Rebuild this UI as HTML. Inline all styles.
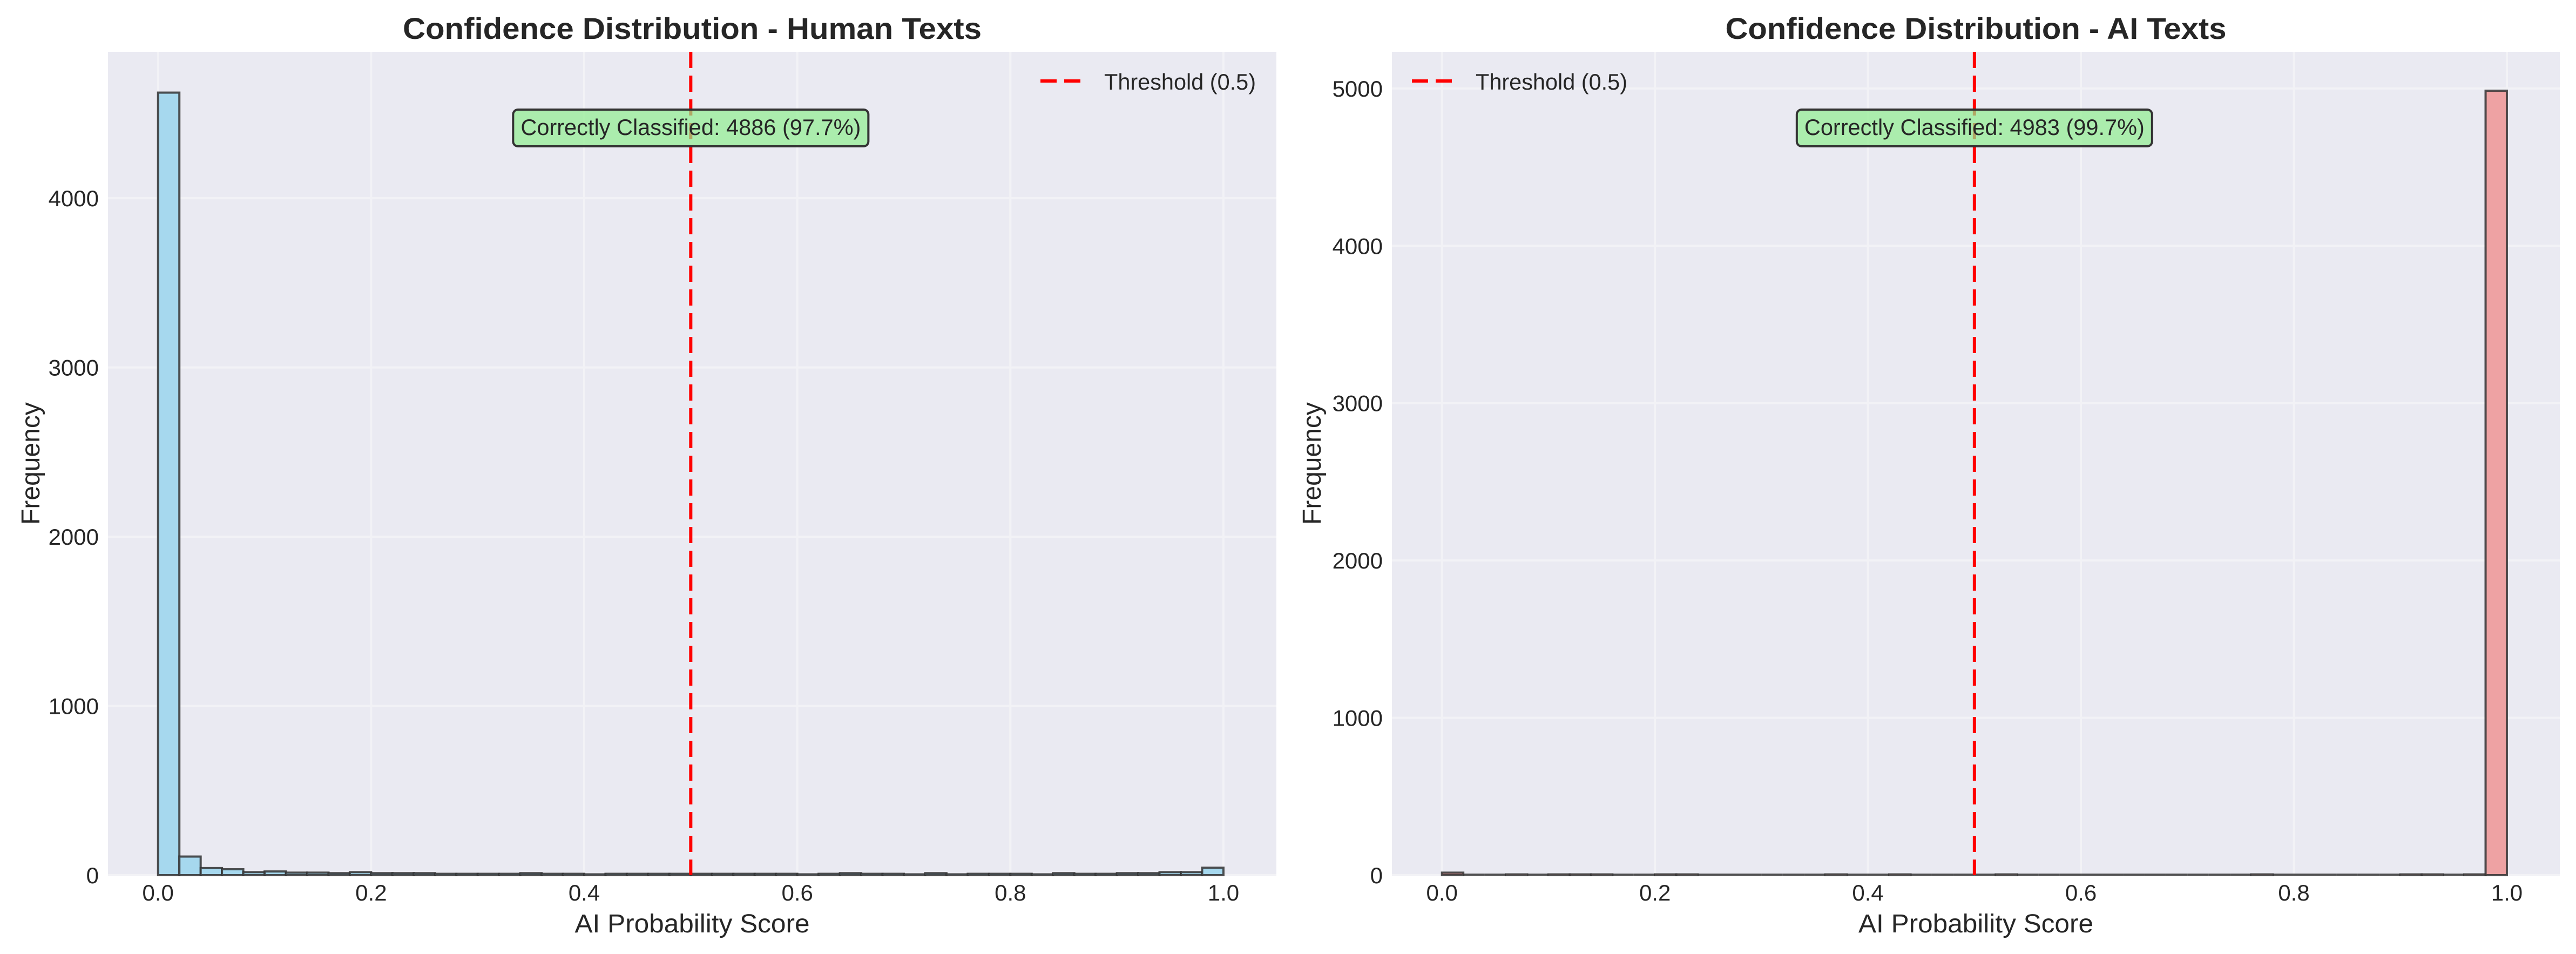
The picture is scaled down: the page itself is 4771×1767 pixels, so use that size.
<!DOCTYPE html>
<html><head><meta charset="utf-8">
<style>
html,body{margin:0;padding:0;background:#fff;}
svg{display:block;}
text{font-family:"Liberation Sans",Arial,sans-serif;fill:#262626;}
</style></head>
<body>
<svg id="fig" xmlns="http://www.w3.org/2000/svg" width="4771" height="1767" viewBox="0 0 4771 1767"></svg>
<script>
const binEdgesStart = 0.0;
const binWidth = 0.02;
const humanCounts = [4624,110,42,35,18,22,15,15,12,18,12,12,12,8,8,8,8,12,8,8,5,8,8,8,8,8,8,8,8,8,5,8,12,8,8,5,12,5,8,8,8,5,12,8,8,12,12,18,18,44];
const aiCounts = [16,0,0,5,0,5,5,5,0,0,5,5,0,0,0,0,0,0,5,0,0,5,0,0,0,0,5,0,0,0,0,0,0,0,0,0,0,0,5,0,0,0,0,0,0,5,5,0,5,4986];
const xTicks = [0.0,0.2,0.4,0.6,0.8,1.0];
const xTickLabels = ["0.0","0.2","0.4","0.6","0.8","1.0"];
const humanYTicks = [0,1000,2000,3000,4000];
const aiYTicks = [0,1000,2000,3000,4000,5000];
const threshold = 0.5;

const NS = "http://www.w3.org/2000/svg";
const svg = document.getElementById('fig');
function mk(tag, attrs, parent){
  const e = document.createElementNS(NS, tag);
  for (const k in attrs) e.setAttribute(k, attrs[k]);
  (parent||svg).appendChild(e);
  return e;
}

function panel(cfg){
  const g = mk('g', {});
  
  
  const L = cfg.left, R = cfg.right, T = 96, B = 1621;
  const xmin = -0.047, xmax = 1.0497;
  const X = v => L + (v - xmin) / (xmax - xmin) * (R - L);
  const Y = v => B - v / cfg.ymax * (B - T);

  const bg = mk('rect', {x:L, y:T, width:R-L, height:B-T, fill:'#EAEAF2'}, g);
  
  

  xTicks.forEach((t, i) => {
    const gl = mk('line', {x1:X(t), x2:X(t), y1:T, y2:B, stroke:'#F2F2F6', 'stroke-width':4}, g);
    
    
    const lb = mk('text', {x:X(t), y:1668, 'font-size':42, 'text-anchor':'middle'}, g);
    lb.textContent = xTickLabels[i];
    
    
  });
  cfg.yTicks.forEach(t => {
    const gl = mk('line', {x1:L, x2:R, y1:Y(t), y2:Y(t), stroke:'#F2F2F6', 'stroke-width':4}, g);
    
    
    const lb = mk('text', {x:L-17, y:Y(t)+15, 'font-size':42, 'text-anchor':'end'}, g);
    lb.textContent = String(t);
    
    
  });

  cfg.counts.forEach((c, i) => {
    const x0 = X(binEdgesStart + i*binWidth), x1 = X(binEdgesStart + (i+1)*binWidth);
    if (c > 0) {
      const b = mk('rect', {x:x0, y:Y(c), width:x1-x0, height:B - Y(c),
        fill:cfg.fill, stroke:'#333', 'stroke-opacity':0.85, 'stroke-width':4}, g);
      
      
    } else {
      const b = mk('line', {x1:x0, x2:x1, y1:B-1, y2:B-1, stroke:'#333', 'stroke-opacity':0.85, 'stroke-width':4}, g);
      
      
    }
  });

  const th = mk('line', {x1:X(threshold), x2:X(threshold), y1:T, y2:B, stroke:'#FF0000', 'stroke-width':6, 'stroke-dasharray':'30 14'}, g);
  
  

  const cx = X(threshold);
  const ab = mk('rect', {x:cx-329, y:203, width:658, height:68, rx:9, ry:9, fill:'#90EE90', 'fill-opacity':0.7, stroke:'#333', 'stroke-width':4}, g);
  
  
  const at = mk('text', {x:cx, y:250, 'font-size':42, 'text-anchor':'middle', textLength:630, lengthAdjust:'spacingAndGlyphs'}, g);
  at.textContent = cfg.annot;
  
  

  const lg = mk('g', {}, g);
  
  
  const lx = cfg.legendX;
  const ll = mk('line', {x1:lx, x2:lx+75, y1:150, y2:150, stroke:'#FF0000', 'stroke-width':6, 'stroke-dasharray':'30 14'}, lg);
  
  
  const lt = mk('text', {x:lx+118, y:166, 'font-size':42, textLength:281, lengthAdjust:'spacingAndGlyphs'}, lg);
  lt.textContent = 'Threshold (0.5)';
  
  

  const tt = mk('text', {x:(L+R)/2, y:72, 'font-size':56, 'font-weight':'bold', 'text-anchor':'middle', textLength:cfg.titleLen, lengthAdjust:'spacingAndGlyphs'}, g);
  tt.textContent = cfg.title;
  
  
  const xl = mk('text', {x:(L+R)/2, y:1727, 'font-size':48, 'text-anchor':'middle', textLength:435, lengthAdjust:'spacingAndGlyphs'}, g);
  xl.textContent = 'AI Probability Score';
  
  
  const yx = cfg.yLabelX, yy = (T+B)/2;
  const yl = mk('text', {x:yx, y:yy, 'font-size':48, 'text-anchor':'middle', transform:'rotate(-90 '+yx+' '+yy+')'}, g);
  yl.textContent = 'Frequency';
  
  
}

panel({id:'human', left:200, right:2364, ymax:4865, yTicks:humanYTicks, counts:humanCounts,
  fill:'#A6D8EE', annot:'Correctly Classified: 4886 (97.7%)', legendX:1927,
  title:'Confidence Distribution - Human Texts', titleLen:1072, yLabelX:73});
panel({id:'ai', left:2578, right:4741, ymax:5233, yTicks:aiYTicks, counts:aiCounts,
  fill:'#EEA2A3', annot:'Correctly Classified: 4983 (99.7%)', legendX:2615,
  title:'Confidence Distribution - AI Texts', titleLen:928, yLabelX:2446});
</script>
</body></html>
